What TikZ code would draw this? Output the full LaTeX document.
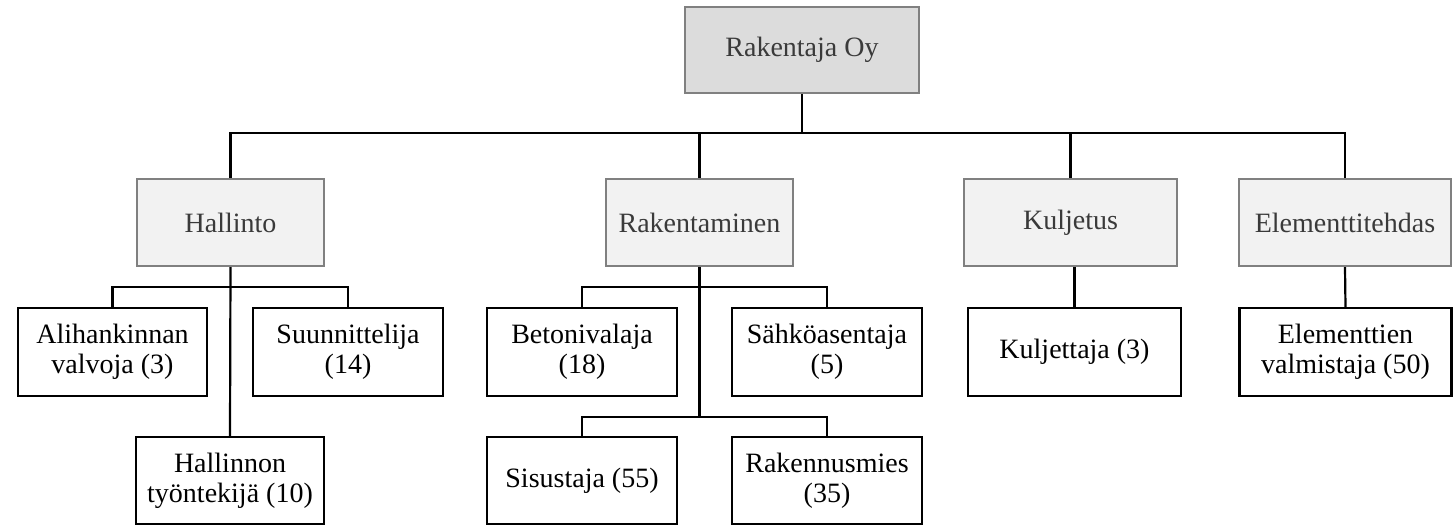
\documentclass[tikz,border=0pt]{standalone}
\usepackage{fontspec}
\setmainfont{Liberation Serif}
\definecolor{hdrfill}{HTML}{DCDCDC}
\definecolor{subfill}{HTML}{F2F2F2}
\definecolor{hdrline}{HTML}{808080}
\definecolor{hdrtext}{HTML}{3A3A3A}
\begin{document}
\begin{tikzpicture}[x=0.5pt,y=-0.5pt,
  base/.style={rectangle,align=center,inner sep=0pt,font=\fontsize{14}{14.8}\selectfont},
  topbox/.style={base,draw=hdrline,fill=hdrfill,line width=1.1pt,text=hdrtext},
  deptbox/.style={base,draw=hdrline,fill=subfill,line width=1.1pt,text=hdrtext},
  rolebox/.style={base,draw=black,fill=white,line width=1.1pt,text=black},
  conn/.style={draw=black,line width=1.1pt}]
\useasboundingbox (0,0) rectangle (1453,526);
\node[topbox,minimum width=117pt,minimum height=43pt] (top) at (802,50) {Rakentaja Oy};
\node[deptbox,minimum width=93.5pt,minimum height=43.5pt] (hal) at (230.5,222.5) {Hallinto};
\node[deptbox,minimum width=93.5pt,minimum height=43.5pt] (rak) at (699.5,222.5) {Rakentaminen};
\node[deptbox,minimum width=106.5pt,minimum height=43.5pt] (kul) at (1070.5,222.5) {Kuljetus};
\node[deptbox,minimum width=106pt,minimum height=43.5pt] (ele) at (1345,222.5) {Elementtitehdas};
\node[rolebox,minimum width=94.5pt,minimum height=44pt] (ali) at (112.5,352) {Alihankinnan\\valvoja (3)};
\node[rolebox,minimum width=95pt,minimum height=44pt] (suu) at (348,352) {Suunnittelija\\(14)};
\node[rolebox,minimum width=94pt,minimum height=43.5pt] (hln) at (230,480.5) {Hallinnon\\työntekijä (10)};
\node[rolebox,minimum width=95pt,minimum height=44pt] (bet) at (582,352) {Betonivalaja\\(18)};
\node[rolebox,minimum width=95pt,minimum height=44pt] (sah) at (827,352) {Sähköasentaja\\(5)};
\node[rolebox,minimum width=95pt,minimum height=43.5pt] (sis) at (582,480.5) {Sisustaja (55)};
\node[rolebox,minimum width=95pt,minimum height=43.5pt] (rkm) at (827,480.5) {Rakennusmies\\(35)};
\node[rolebox,minimum width=106.5pt,minimum height=44pt] (klj) at (1074.5,352) {Kuljettaja (3)};
\node[rolebox,minimum width=106pt,minimum height=44pt] (elv) at (1345.5,352) {Elementtien\\valmistaja (50)};
\coordinate (b0) at (0,133);
\coordinate (b1) at (0,287);
\coordinate (b2) at (0,417);
% top level
\draw[conn] (top.south) -- (top.south |- b0);
\draw[conn] (hal.north) -- (hal.north |- b0) -| (ele.north);
\draw[conn] (rak.north) -- (rak.north |- b0);
\draw[conn] (kul.north) -- (kul.north |- b0);
% Hallinto
\draw[conn] (hal.south) -- (hln.north);
\draw[conn] (ali.north) -- (ali.north |- b1) -| (suu.north);
% Rakentaminen
\draw[conn] (rak.south) -- (rak.south |- b2);
\draw[conn] (bet.north) -- (bet.north |- b1) -| (sah.north);
\draw[conn] (sis.north) -- (sis.north |- b2) -| (rkm.north);
% Kuljetus, Elementtitehdas
\draw[conn] (klj.north) -- (klj.north |- kul.south);
\draw[conn] (ele.south) -- (elv.north);
\end{tikzpicture}
\end{document}
